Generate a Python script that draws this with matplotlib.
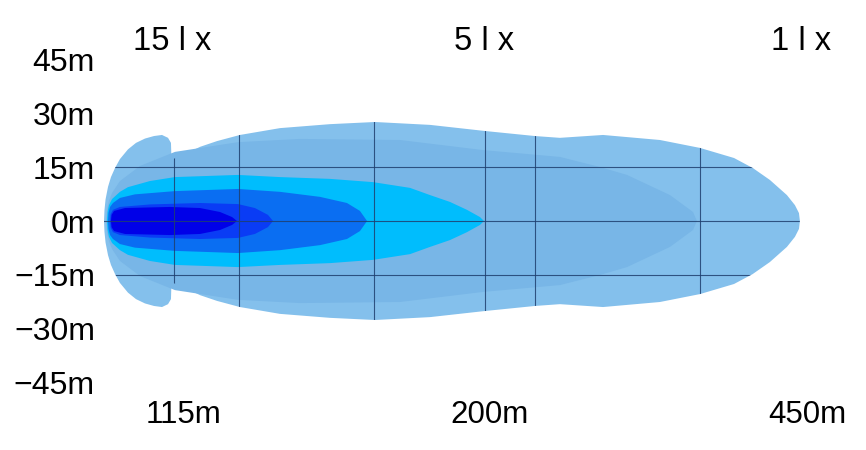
import matplotlib
matplotlib.use("Agg")
import matplotlib.pyplot as plt
from matplotlib.patches import Polygon

# beam profile: distance (m) and half width (m) of each iso-lux outline
outer_x = [0, 0.3, 1.0, 2.6, 4.5, 7.1, 10.3, 15.5, 20.7, 26.5, 32.3, 37.5, 41.4, 43.3, 43.6, 44.6, 51.1,
           62.1, 73.1, 87.9, 113.8, 146.1, 175.2, 210.8, 246.4, 278.7, 294.8, 322.7, 359.5, 385.4,
           407.4, 419.6, 430.6, 441.6, 446.8, 449.4, 450]
outer_h = [0, 3.0, 6.0, 9.5, 12.2, 14.7, 17.2, 19.9, 21.7, 22.9, 23.6, 23.9, 23.1, 21.7, 17.5, 17.2, 18.3,
           20.6, 22.2, 23.9, 25.8, 26.9, 27.5, 26.7, 25.0, 23.6, 23.1, 23.9, 22.5, 20.3,
           17.5, 14.7, 11.4, 7.2, 4.4, 2.2, 0]

inner_x = [1.3, 2.0, 3.2, 5.2, 10.3, 23.3, 45.9, 86.6, 126.7, 191.4, 245.1, 294.8, 320.7, 338.2,
           366.0, 380.9, 383.4]
inner_h = [0, 3.3, 5.6, 7.8, 11.1, 15.3, 19.2, 21.9, 22.8, 22.5, 19.7, 17.8, 15.0, 12.8, 7.2, 2.5, 0]

cyan_x = [1.9, 2.3, 3.2, 5.2, 10.3, 15.5, 29.7, 45.9, 86.6, 113.8, 146.1, 173.9, 197.9, 210.8, 223.7,
          234.7, 243.1, 245.7]
cyan_h = [0, 2.5, 4.4, 6.1, 8.1, 9.4, 11.1, 12.2, 12.8, 12.2, 11.7, 10.8, 9.2, 7.2, 5.3, 3.1, 1.1, 0]

mid_x = [2.6, 2.9, 3.9, 5.8, 10.3, 20.0, 45.9, 86.6, 113.8, 139.7, 157.1, 165.5, 170.1]
mid_h = [0, 2.2, 3.9, 5.0, 6.4, 7.4, 8.3, 8.9, 8.1, 6.7, 5.0, 2.8, 0]

dark_x = [3.9, 4.3, 5.8, 10.3, 29.7, 62.1, 86.6, 97.6, 106.0, 109.3]
dark_h = [0, 1.9, 3.1, 3.9, 4.6, 5.0, 4.7, 3.6, 1.7, 0]

core_x = [4.5, 4.9, 6.5, 13.6, 42.7, 62.1, 75.0, 82.8, 86.0]
core_h = [0, 1.7, 2.8, 3.6, 3.9, 3.6, 2.5, 1.1, 0]

grid_x = [45.3, 87.3, 174.6, 246.4, 278.7, 385.4]
grid_y = [15, 0, -15]

y_ticks = [45, 30, 15, 0, -15, -30, -45]
y_labels = ["45m", "30m", "15m", "0m", "\u221215m", "\u221230m", "\u221245m"]
dist_ticks = [51.7, 249, 455]
dist_labels = ["115m", "200m", "450m"]
lux_ticks = [44, 246, 450.7]
lux_labels = ["15 l x", "5 l x", "1 l x"]

plt.rcParams["font.family"] = ["Liberation Sans", "DejaVu Sans"]


def outline(xs, hs):
    pts = [(x, h) for x, h in zip(xs, hs)]
    pts += [(x, -h) for x, h in zip(xs[::-1], hs[::-1])]
    return pts


fig = plt.figure(figsize=(8.66, 4.5), dpi=100)
ax = fig.add_axes([100 / 866, 67 / 450, 750 / 866, 324 / 450])

levels = [
    (outer_x, outer_h, "#84c0ec"),
    (inner_x, inner_h, "#78b6e7"),
    (cyan_x, cyan_h, "#00bdfd"),
    (mid_x, mid_h, "#0a6ef2"),
    (dark_x, dark_h, "#0a3cf5"),
    (core_x, core_h, "#0000e8"),
]
patches = []
for xs, hs, col in levels:
    p = Polygon(outline(xs, hs), closed=True, facecolor=col, edgecolor="none")
    ax.add_patch(p)
    patches.append(p)

# grid only shows inside the beam
clip = patches[0]
for gx in grid_x:
    ln = ax.axvline(gx, color="#1f3f6f", lw=0.8, alpha=0.85)
    ln.set_clip_path(clip)
for gy in grid_y:
    ln = ax.axhline(gy, color="#1f3f6f", lw=0.8, alpha=0.85)
    ln.set_clip_path(clip)

ax.set_xlim(-2.59, 482.4)
ax.set_ylim(-45, 45)
for s in ax.spines.values():
    s.set_visible(False)

ax.set_yticks(y_ticks)
ax.set_yticklabels(y_labels)
ax.set_xticks(dist_ticks)
ax.set_xticklabels(dist_labels)
ax.tick_params(axis="y", length=0, pad=3.6, labelsize=23)
ax.tick_params(axis="x", length=0, pad=12, labelsize=22.5)

ax2 = ax.twiny()
ax2.set_xlim(ax.get_xlim())
ax2.set_xticks(lux_ticks)
ax2.set_xticklabels(lux_labels)
ax2.tick_params(axis="x", length=0, pad=1.5, labelsize=23.5)
for s in ax2.spines.values():
    s.set_visible(False)

fig.savefig("out.png", dpi=100)
